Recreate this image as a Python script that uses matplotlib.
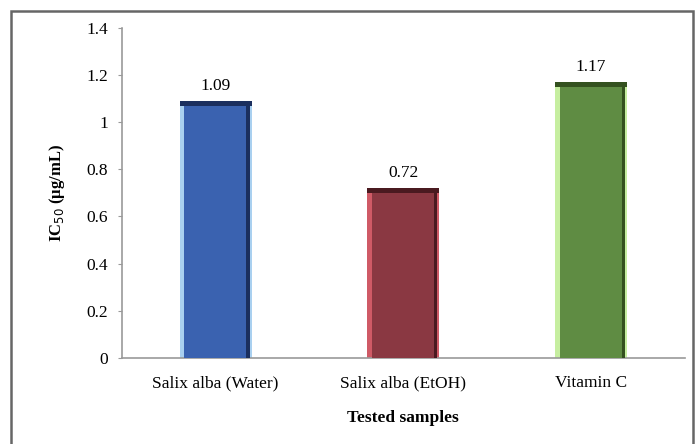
import matplotlib.pyplot as plt
from matplotlib.patches import Rectangle

# data
samples = ['Salix alba (Water)', 'Salix alba (EtOH)', 'Vitamin C']
ic50 = [1.09, 0.72, 1.17]
main_colors = ['#3a62b0', '#8a3842', '#5f8c43']
light_colors = ['#a9d0f0', '#cf5a66', '#c6eea0']
dark_colors = ['#1b2f5e', '#4a1a20', '#34511f']
yticks = [0, 0.2, 0.4, 0.6, 0.8, 1, 1.2, 1.4]

plt.rcParams['font.family'] = ['Liberation Serif', 'DejaVu Serif']

fig = plt.figure(figsize=(6.96, 4.44), dpi=100)
ax = fig.add_axes([0.175, 0.194, 0.809, 0.743])

x = list(range(len(samples)))
w = 0.385
# light left side, main body, dark right edge, dark top cap
ax.bar(x, ic50, width=w, color=light_colors, zorder=2)
ax.bar([i - w / 2 + 0.025 for i in x], ic50, width=w - 0.05, align='edge',
       color=main_colors, zorder=3)
ax.bar([i + w / 2 - 0.03 for i in x], ic50, width=0.018, align='edge',
       color=dark_colors, zorder=3)
ax.bar(x, [0.02] * len(x), bottom=[v - 0.02 for v in ic50], width=w,
       color=dark_colors, zorder=4)

for i, v in zip(x, ic50):
    ax.text(i, v + 0.03, f'{v:.2f}', ha='center', va='bottom', fontsize=12.5)

ax.set_xlim(-0.5, 2.5)
ax.set_ylim(0, 1.4)
ax.set_yticks(yticks)
ax.set_yticklabels([f'{t:g}' for t in yticks], fontsize=12.5)
ax.set_xticks(x)
ax.set_xticklabels(samples, fontsize=12.5)
ax.tick_params(axis='x', length=0, pad=12.5)
ax.tick_params(axis='y', length=3, color='#999999', pad=7)

for s in ['top', 'right']:
    ax.spines[s].set_visible(False)
for s in ['left', 'bottom']:
    ax.spines[s].set_color('#999999')
    ax.spines[s].set_linewidth(1.2)

ax.set_ylabel('IC$_{50}$ (µg/mL)', fontsize=12, fontweight='bold', labelpad=14)
ax.set_xlabel('Tested samples', fontsize=12.5, fontweight='bold', labelpad=13.5)

# outer chart border
fig.patches.append(Rectangle((11 / 696, -0.05), 682 / 696, 1.05 - 11 / 444,
                             transform=fig.transFigure, fill=False,
                             edgecolor='#666666', linewidth=1.8))

fig.savefig('out.png', dpi=100)
